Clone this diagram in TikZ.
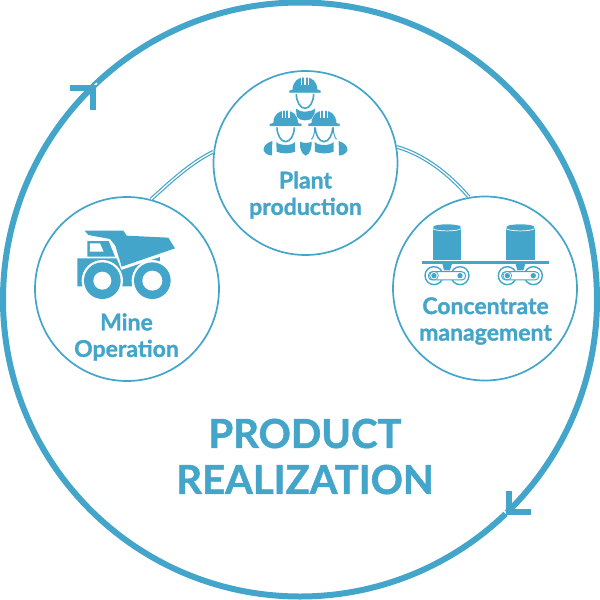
\documentclass[tikz,border=0pt]{standalone}
\usepackage{fontspec}
\setmainfont{Lato}[BoldFont={Lato Bold},BoldFeatures={FakeBold=1.2}]
\definecolor{brand}{HTML}{43A5CA}
\tikzset{
  hub/.style={circle,draw=brand,line width=1.7pt,fill=white,minimum size=184pt,inner sep=0pt},
  ring/.style={circle,draw=brand,line width=6pt,minimum size=594pt,inner sep=0pt},
  link/.style={draw=brand,line width=1.2pt,double=white,double distance=1.3pt},
  chevron/.style={draw=brand,line width=5.5pt,line cap=butt,line join=miter},
  caption/.style={text=brand,font=\bfseries\fontsize{23}{26.5}\selectfont,align=center,inner sep=0pt},
  headline/.style={text=brand,font=\bfseries\fontsize{40}{46}\selectfont,align=center,inner sep=0pt},
  worker/.pic={
    \filldraw[brand,postaction={draw=white,line width=0.8pt}] (-47,-3) -- (-37,-6) .. controls (-36,-32) and (-20,-43) .. (0,-43)
       .. controls (20,-43) and (36,-32) .. (37,-6) -- (47,-3) -- (47,3) -- (-47,3) -- cycle;
    \fill[brand] (-47,-3) -- (-37,-6) .. controls (-36,-32) and (-20,-43) .. (0,-43)
       .. controls (20,-43) and (36,-32) .. (37,-6) -- (47,-3) -- (47,3) -- (-47,3) -- cycle;
    \foreach \sx in {-10,0,10} \fill[white] (\sx-1.6,-44) rectangle (\sx+1.6,-21);
    \draw[brand,line width=1.6pt] (-26,7) .. controls (-26,30) and (-14,50) .. (0,50)
       .. controls (14,50) and (26,30) .. (26,7);
  },
  track/.pic={
    \draw[brand,line width=1.4pt] (-39,0) circle (27);
    \draw[brand,line width=1.4pt] (39,0) circle (27);
    \draw[brand,line width=1pt,fill=white,rounded corners=4pt] (-56,-12) rectangle (56,13);
    \fill[brand] (-39,0) circle (8);
    \draw[brand,line width=0.7pt] (-39,0) circle (13);
    \fill[brand] (39,0) circle (8);
    \fill[brand] (-14,-36) -- (15,-36) -- (9,-16) -- (-9,-16) -- cycle;
    \fill[brand] (-43,-142) rectangle (43,-48);
    \draw[white,line width=0.7pt] (-43,-141) .. controls (-30,-132) and (30,-132) .. (43,-141);
    \fill[brand] (0,-146) ellipse (42 and 8);
  },
}
\begin{document}
\begin{tikzpicture}[x=1pt,y=-1pt]
\useasboundingbox (0,0) rectangle (600,600);
\fill[white] (0,0) rectangle (600,600);
\node[ring] (outer) at (300,299.5) {};

% arrowheads on the outer ring
\draw[white,line width=1.5pt] (90,90) -- (97,83);
\draw[chevron] (70,88) -- (93,88) -- (93,110);
\draw[white,line width=1.5pt] (503,510) -- (509,516);
\draw[chevron] (509,491) -- (509,512) -- (531,512);

% double connectors
\node[hub] (plant) at (305.5,163) {};
\node[hub] (mine) at (127,289) {};
\node[hub] (conc) at (485,288.5) {};
\draw[link] (mine.75) .. controls (168,184) and (190,163) .. (plant.173);
\draw[link] (plant.10) .. controls (425,155) and (450,175) .. (conc.100);

% captions
\node[caption] (plantlabel) at (305.5,195) {Plant\\production};
\node[caption] (minelabel) at (126.5,337) {Mine\\Operation};
\node[caption] (conclabel) at (485.5,321) {Concentrate\\management};
\node[headline] (title) at (305,456.5) {PRODUCT\\REALIZATION};

% truck
\begin{scope}[shift={(60,215)},x=0.3333pt,y=-0.3333pt]
  \fill[brand] (74,47) -- (190,47) -- (200,62) -- (325,68) -- (345,100) -- (185,155)
     -- (166,92) -- (150,72) -- (85,60) -- cycle;
  \fill[brand] (82,78) -- (146,78) -- (165,125) -- (82,125) -- cycle;
  \fill[white] (90,85) -- (120,85) -- (131,110) -- (90,110) -- cycle;
  \fill[brand] (52,130) -- (170,130) -- (184,165) -- (300,126) -- (300,142) -- (235,165)
     -- (215,214) -- (52,214) -- cycle;
  \fill[white] (127,197) circle (62);
  \fill[white] (277,197) circle (62);
  \fill[brand] (127,197) circle (55);
  \fill[white] (127,197) circle (27);
  \fill[brand] (277,197) circle (55);
  \fill[white] (277,197) circle (30);
\end{scope}

% workers
\begin{scope}[shift={(210,70)},x=0.3333pt,y=-0.3333pt]
  \pic at (285,65) {worker};
  \fill[brand] (258,116) .. controls (270,128) and (300,128) .. (315,116)
     -- (313,140) .. controls (300,155) and (270,155) .. (260,140) -- cycle;
  \pic at (227,165) {worker};
  \pic at (342,165) {worker};
  \draw[brand,line width=1pt] (314,172) .. controls (314,195) and (308,205) .. (304,208);
  \draw[brand,line width=1pt] (370,172) .. controls (370,195) and (376,205) .. (380,208);
  \fill[brand] (199,216) .. controls (210,228) and (245,228) .. (255,216) -- (255,245)
     .. controls (240,252) and (215,252) .. (200,245) -- cycle;
  \fill[brand] (314,216) .. controls (325,228) and (360,228) .. (371,216) -- (371,245)
     .. controls (355,252) and (330,252) .. (315,245) -- cycle;
  \fill[brand] (187,213) .. controls (170,218) and (158,230) .. (161,242)
     .. controls (165,252) and (180,258) .. (186,256) -- cycle;
  \fill[brand] (386,213) .. controls (403,218) and (415,230) .. (412,242)
     .. controls (408,252) and (393,258) .. (387,256) -- cycle;
  \fill[brand] (270,215) .. controls (278,220) and (297,220) .. (305,215)
     .. controls (306,235) and (300,252) .. (287,257) .. controls (275,252) and (268,235) .. (270,215) -- cycle;
\end{scope}

% conveyors
\begin{scope}[shift={(410,210)},x=0.3333pt,y=-0.3333pt]
  \pic at (111,197) {track};
  \pic at (331,197) {track};
  \fill[brand] (35,153) rectangle (417,161);
\end{scope}
\end{tikzpicture}
\end{document}
